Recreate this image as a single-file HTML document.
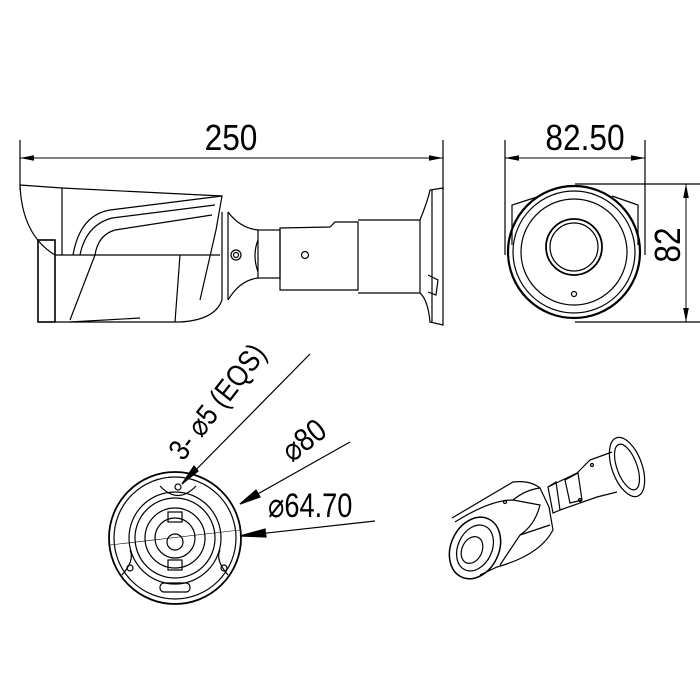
<!DOCTYPE html>
<html><head><style>body{margin:0;background:#fff}svg{display:block}</style></head><body>
<svg width="700" height="700" viewBox="0 0 700 700" xmlns="http://www.w3.org/2000/svg" font-family="Liberation Sans, sans-serif">
<defs><marker id="a" viewBox="0 0 20 10" refX="20" refY="5" markerWidth="20" markerHeight="7" markerUnits="userSpaceOnUse" orient="auto-start-reverse"><path d="M0,1 L20,5 L0,9z" fill="#000"/></marker></defs>
<g stroke="#000" fill="none" stroke-width="1.2">
<!-- top dim -->
<line x1="20" y1="140" x2="20" y2="190"/><line x1="443" y1="140" x2="443" y2="190"/>
<line x1="20" y1="158" x2="443" y2="158" marker-start="url(#a)" marker-end="url(#a)" stroke-width="1"/>
<!-- side view -->
<path d="M20,185 Q22,235 55,255"/><path d="M20,185 L62,188 L222,196"/>
<line x1="62" y1="188" x2="62" y2="255"/>
<rect x="38" y="240" width="17" height="82" stroke-width="1.6"/>
<path d="M55,255 L220,255 M55,322 L180,322 Q215,320 222,300"/>
<path d="M73,255 Q80,215 110,210 L222,196 L216,230 L200,300" />
<path d="M80,255 Q86,225 112,218 L215,205"/>
<path d="M95,255 Q98,235 115,230 L212,215"/>
<path d="M95,255 L70,320 M180,255 L175,322"/>
<path d="M70,322 L140,318"/>
<path d="M222,212 L222,300 M228,212 L228,300"/>
<path d="M228,212 Q240,228 258,230 M228,300 Q240,280 258,278"/>
<circle cx="236" cy="255" r="5"/><circle cx="236" cy="255" r="2.5"/>
<rect x="258" y="230" width="22" height="48"/><path d="M258,240 Q252,255 258,272"/>
<path d="M280,228 L330,227 L335,222 L358,222 L358,290 L280,290 Z"/>
<circle cx="305" cy="255" r="3.5"/>
<path d="M358,220 L420,220 L420,293 L358,293"/>
<path d="M420,220 Q428,200 430,190 L443,188 L443,325 L430,322 Q428,300 420,293"/>
<line x1="432" y1="190" x2="432" y2="322"/>
<path d="M428,275 L438,280 L436,295 L428,292"/>
<!-- front view -->
<line x1="505" y1="140" x2="505" y2="255"/><line x1="645" y1="140" x2="645" y2="255"/>
<line x1="505" y1="158" x2="645" y2="158" marker-start="url(#a)" marker-end="url(#a)" stroke-width="1"/>
<line x1="575" y1="184" x2="700" y2="184"/><line x1="575" y1="322" x2="700" y2="322"/>
<line x1="686" y1="184" x2="686" y2="322" marker-start="url(#a)" marker-end="url(#a)" stroke-width="1"/>
<path d="M512,245 L512,205 L540,196 M638,245 L638,205 L612,196"/>
<circle cx="574" cy="252" r="66" stroke-width="2.2"/>
<circle cx="574" cy="252" r="61"/><circle cx="574" cy="252" r="53"/>
<circle cx="574" cy="247" r="28" stroke-width="1.8"/><circle cx="574" cy="247" r="24"/>
<circle cx="574" cy="294" r="2.5"/>
<!-- mount -->
<circle cx="175" cy="538" r="66" stroke-width="1.8"/><circle cx="175" cy="538" r="61"/>
<circle cx="175" cy="538" r="46"/><circle cx="175" cy="538" r="40"/><circle cx="175" cy="538" r="30"/><circle cx="175" cy="538" r="20"/><circle cx="175" cy="542" r="8"/>
<path d="M160,486 Q178,505 196,486"/><circle cx="178" cy="487" r="3"/>
<path d="M122,575 Q135,560 130,550"/><circle cx="130" cy="568" r="3"/>
<path d="M228,575 Q215,560 220,550"/><circle cx="224" cy="568" r="3"/>
<rect x="160" y="583" width="30" height="9" rx="4"/>
<rect x="168" y="512" width="14" height="10"/><rect x="168" y="560" width="14" height="10"/>
<line x1="110" y1="545" x2="240" y2="530" stroke-width="0.6"/>
<line x1="182" y1="484" x2="310" y2="354"/><path d="M182,484 L194,466 L198,471z" fill="#000"/>
<line x1="240" y1="504" x2="350" y2="442"/><path d="M240,504 L256,490 L260,497z" fill="#000"/>
<line x1="240" y1="536" x2="375" y2="521"/><path d="M240,536 L265,529 L266,537z" fill="#000"/>
<!-- perspective camera -->
<path d="M452,518 L513,482 Q530,480 540,488 L549,507 L553,530 Q540,555 497,567 L480,575"/>
<path d="M455,522 Q490,500 513,500 L540,505 Q535,525 520,535 L500,565"/>
<path d="M513,500 Q525,490 540,488"/>
<path d="M520,535 L550,525"/>
<ellipse cx="475" cy="548" rx="24" ry="32" transform="rotate(25 475 548)" stroke-width="1.5"/>
<ellipse cx="475" cy="548" rx="17" ry="24" transform="rotate(25 475 548)"/>
<ellipse cx="472" cy="550" rx="10" ry="14" transform="rotate(25 472 550)"/>
<path d="M548,487 L577,473 L590,460 L612,452 M560,510 L597,497 L617,492"/>
<path d="M548,487 L556,482 L560,510 L553,513 Z"/>
<path d="M565,480 L578,473 L582,500 L570,503 Z"/>
<ellipse cx="627" cy="467" rx="15" ry="31" transform="rotate(-20 627 467)"/>
<ellipse cx="627" cy="467" rx="10" ry="24" transform="rotate(-20 627 467)"/>
<circle cx="505" cy="502" r="1.5"/><circle cx="592" cy="465" r="1.5"/><circle cx="580" cy="500" r="1.5"/>
</g>
<g fill="#000" font-size="36">
<text transform="translate(231,150) scale(0.88 1)" text-anchor="middle">250</text>
<text transform="translate(585,150) scale(0.88 1)" text-anchor="middle">82.50</text>
<text transform="translate(680,245) rotate(-90) scale(0.88 1)" text-anchor="middle">82</text>
<text transform="translate(183,462) rotate(-52) scale(0.85 1)" font-size="30">3- ⌀5 (EQS)</text>
<text transform="translate(292,463) rotate(-38) scale(0.85 1)" font-size="32">⌀80</text>
<text transform="translate(268,517) scale(0.8 1)" font-size="34">⌀64.70</text>
</g>
</svg>
</body></html>
